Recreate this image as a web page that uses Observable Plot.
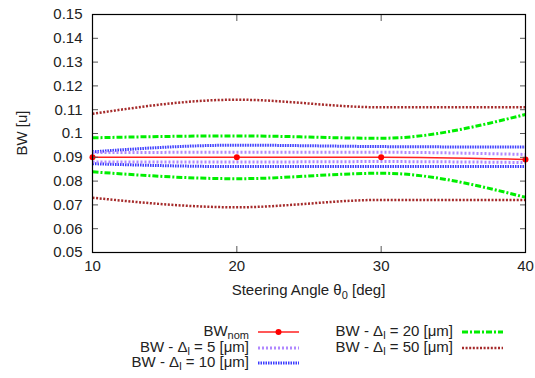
<!DOCTYPE html>
<html>
<head>
<meta charset="utf-8">
<script src="https://cdn.jsdelivr.net/npm/d3@7"></script>
<script src="https://cdn.jsdelivr.net/npm/@observablehq/plot@0.6"></script>
<style>
  html, body { margin: 0; padding: 0; background: #fff; }
  #chart { width: 535px; height: 378px; font-family: "Liberation Sans", Arial, sans-serif; }
  svg { display: block; }
</style>
</head>
<body>
<div id="chart"></div>
<script>
// ---- data ----
const angles = [10, 20, 30, 40];
const nominal  = [0.0900, 0.0900, 0.0900, 0.0891];
const d5Upper  = [0.0920, 0.0921, 0.0921, 0.0912];
const d5Lower  = [0.0880, 0.0880, 0.0882, 0.0878];
const d10Upper = [0.0923, 0.0951, 0.0945, 0.0943];
const d10Lower = [0.0873, 0.0861, 0.0861, 0.0861];
const d20Upper = [0.0982, 0.0990, 0.0980, 0.1080];
const d20Lower = [0.0839, 0.0810, 0.0833, 0.0732];
const d50Upper = [0.1083, 0.1142, 0.1110, 0.1110];
const d50Lower = [0.0730, 0.0690, 0.0721, 0.0721];
const xTicks = [10, 20, 30, 40];
const yTicks = [0.05, 0.06, 0.07, 0.08, 0.09, 0.1, 0.11, 0.12, 0.13, 0.14, 0.15];
const yTickLabels = ["0.05","0.06","0.07","0.08","0.09","0.1","0.11","0.12","0.13","0.14","0.15"];

const styles = {
  nom: {stroke: "#ff2020", strokeWidth: 1.5, strokeDasharray: "none"},
  d5:  {stroke: "#b088ff", strokeWidth: 3, strokeDasharray: "2,2"},
  d10: {stroke: "#3c3cff", strokeWidth: 3, strokeDasharray: "1.5,1"},
  d20: {stroke: "#00ee00", strokeWidth: 3, strokeDasharray: "6,2,2,2"},
  d50: {stroke: "#a52a2a", strokeWidth: 2.5, strokeDasharray: "2,1.6"}
};

const toRows = vals => angles.map((a, i) => ({x: a, y: vals[i]}));
const series = [
  [d50Upper, styles.d50], [d50Lower, styles.d50],
  [d20Upper, styles.d20], [d20Lower, styles.d20],
  [d10Upper, styles.d10], [d10Lower, styles.d10],
  [d5Upper, styles.d5], [d5Lower, styles.d5],
  [nominal, styles.nom]
];

const FS = 15;
const W = 535, H = 300;
const plot = Plot.plot({
  width: W,
  height: H,
  marginLeft: 92,
  marginRight: 10,
  marginTop: 14,
  marginBottom: 48,
  style: {fontFamily: "Liberation Sans, Arial, sans-serif", fontSize: FS + "px", color: "#222", background: "#fff"},
  x: {domain: [10, 40]},
  y: {domain: [0.05, 0.15]},
  marks: [
    ...series.map(([vals, st]) => Plot.line(toRows(vals), {
      x: "x", y: "y", curve: "monotone-x", strokeLinecap: "butt", strokeLinejoin: "miter", ...st
    })),
    Plot.dot(toRows(nominal), {x: "x", y: "y", r: 3, fill: "#ff0000", stroke: "none"}),
    Plot.axisX({anchor: "bottom", ticks: xTicks, tickSize: -6, tickPadding: 14, label: null, fontSize: FS, stroke: "#555"}),
    Plot.axisX({anchor: "top", ticks: xTicks, tickSize: -6, tickFormat: () => "", label: null, stroke: "#555"}),
    Plot.axisY({anchor: "left", ticks: yTicks, tickSize: -6, tickPadding: 16, label: null, fontSize: FS,
                tickFormat: d => yTickLabels[yTicks.findIndex(t => Math.abs(t - d) < 1e-9)], stroke: "#555"}),
    Plot.axisY({anchor: "right", ticks: yTicks, tickSize: -6, tickFormat: () => "", label: null, stroke: "#555"}),
    Plot.frame({stroke: "#000", strokeWidth: 1.2})
  ]
});

document.getElementById("chart").appendChild(plot);

// make sure each line's dash pattern is applied to its path (butt caps so gaps stay open)
const svg = d3.select(plot);
svg.selectAll('g[aria-label="line"]').each(function (_, i) {
  const st = series[i] && series[i][1];
  if (!st) return;
  d3.select(this)
    .attr("stroke-linecap", "butt")
    .attr("stroke-linejoin", "miter")
    .selectAll("path")
    .attr("stroke-linecap", "butt")
    .attr("stroke-dasharray", st.strokeDasharray === "none" ? null : st.strokeDasharray)
    .attr("stroke", st.stroke)
    .attr("stroke-width", st.strokeWidth);
});

// axis titles with subscripts
const plotLeft = 92, plotRight = W - 10, plotTop = 14, plotBottom = H - 48;
const xl = svg.append("text")
  .attr("x", (plotLeft + plotRight) / 2)
  .attr("y", 295)
  .attr("text-anchor", "middle")
  .attr("font-size", FS)
  .attr("fill", "#222");
xl.append("tspan").text("Steering Angle θ");
xl.append("tspan").attr("dy", 4).attr("font-size", 11).text("0");
xl.append("tspan").attr("dy", -4).text(" [deg]");

svg.append("text")
  .attr("transform", `translate(27,${(plotTop + plotBottom) / 2}) rotate(-90)`)
  .attr("text-anchor", "middle")
  .attr("font-size", FS)
  .attr("fill", "#222")
  .text("BW [u]");

// legend below the chart
const legendItems = [
  {label: ["BW", "nom", ""], st: styles.nom, dot: true, col: 0, row: 0},
  {label: ["BW - Δ", "l", " = 5 [μm]"], st: styles.d5, col: 0, row: 1},
  {label: ["BW - Δ", "l", " = 10 [μm]"], st: styles.d10, col: 0, row: 2},
  {label: ["BW - Δ", "l", " = 20 [μm]"], st: styles.d20, col: 1, row: 0},
  {label: ["BW - Δ", "l", " = 50 [μm]"], st: styles.d50, col: 1, row: 1}
];
const colTextRight = [249, 453];
const colLineStart = [258, 462];
const rowY = [32, 48, 63];
const leg = d3.select("#chart").append("svg")
  .attr("width", W).attr("height", 78)
  .style("font-family", "Liberation Sans, Arial, sans-serif");
legendItems.forEach(it => {
  const y = rowY[it.row];
  const t = leg.append("text")
    .attr("x", colTextRight[it.col]).attr("y", y + 4)
    .attr("text-anchor", "end").attr("font-size", FS).attr("fill", "#222");
  t.append("tspan").text(it.label[0]);
  t.append("tspan").attr("dy", 3).attr("font-size", 11).text(it.label[1]);
  if (it.label[2]) t.append("tspan").attr("dy", -3).text(it.label[2]);
  const x1 = colLineStart[it.col], x2 = x1 + 41;
  leg.append("line")
    .attr("x1", x1).attr("x2", x2).attr("y1", y).attr("y2", y)
    .attr("stroke", it.st.stroke)
    .attr("stroke-width", it.st.strokeWidth)
    .attr("stroke-dasharray", it.st.strokeDasharray === "none" ? null : it.st.strokeDasharray);
  if (it.dot) leg.append("circle").attr("cx", (x1 + x2) / 2).attr("cy", y).attr("r", 3).attr("fill", "#ff0000");
});
</script>
</body>
</html>
